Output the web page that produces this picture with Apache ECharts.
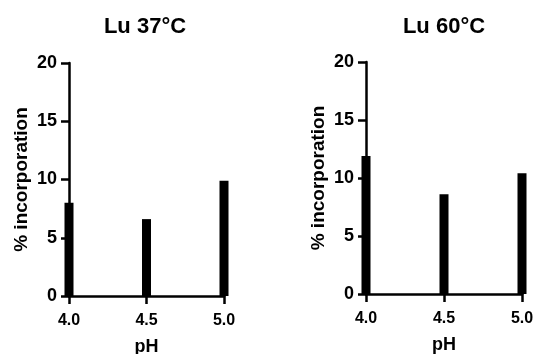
<!DOCTYPE html>
<html>
<head>
<meta charset="utf-8">
<script src="https://cdn.jsdelivr.net/npm/echarts@6/dist/echarts.min.js"></script>
<style>
  html, body { margin: 0; padding: 0; background: #fff; }
  #chart { width: 533px; height: 354px; }
</style>
</head>
<body>
<div id="chart"></div>
<script>
// pH levels tested and % incorporation measured at each temperature
const phLevels = [4.0, 4.5, 5.0];
const lu37 = [8.0, 6.6, 9.9];
const lu60 = [11.9, 8.6, 10.4];
const panelTitles = ['Lu 37°C', 'Lu 60°C'];
const yTicks = { min: 0, max: 20, interval: 5 };
const xTicks = { min: 4.0, max: 5.0, interval: 0.5 };

const FONT = '"Liberation Sans", Arial, Helvetica, sans-serif';
const INK = '#000';

// fixed plot rectangles; labels are allowed to sit outside them
const grids = [
  { left: 69, top: 63, width: 155, height: 233, containLabel: false, outerBoundsMode: 'none' },
  { left: 366, top: 62, width: 156, height: 232, containLabel: false, outerBoundsMode: 'none' }
];
const titleCenters = [145, 444];

function xAxis(i) {
  return {
    type: 'value', gridIndex: i,
    min: xTicks.min, max: xTicks.max, interval: xTicks.interval,
    name: 'pH', nameLocation: 'middle', nameGap: 42,
    nameTextStyle: { fontFamily: FONT, fontWeight: 'bold', fontSize: 18, color: INK },
    axisLine: { show: true, onZero: false, lineStyle: { color: INK, width: 2.5 } },
    axisTick: { show: true, length: 8, lineStyle: { color: INK, width: 2.5 } },
    axisLabel: {
      fontFamily: FONT, fontWeight: 'bold', fontSize: 16, color: INK, margin: 17,
      formatter: v => v.toFixed(1)
    },
    splitLine: { show: false }
  };
}

function yAxis(i) {
  return {
    type: 'value', gridIndex: i,
    min: yTicks.min, max: yTicks.max, interval: yTicks.interval,
    name: '% incorporation', nameLocation: 'middle', nameGap: 38, nameRotate: 90,
    nameTextStyle: { fontFamily: FONT, fontWeight: 'bold', fontSize: 19, color: INK },
    axisLine: { show: true, lineStyle: { color: INK, width: 2.5 } },
    axisTick: { show: true, length: 8, lineStyle: { color: INK, width: 2.5 } },
    axisLabel: { fontFamily: FONT, fontWeight: 'bold', fontSize: 18, color: INK, margin: 12 },
    splitLine: { show: false }
  };
}

function barSeries(i, values) {
  return {
    type: 'bar', xAxisIndex: i, yAxisIndex: i,
    data: phLevels.map((p, k) => [p, values[k]]),
    barWidth: 9, clip: false,
    itemStyle: { color: INK },
    z: 3
  };
}

const chart = echarts.init(document.getElementById('chart'), null, { renderer: 'canvas' });
chart.setOption({
  animation: false,
  backgroundColor: '#fff',
  title: panelTitles.map((t, i) => ({
    text: t, left: titleCenters[i], top: 16, padding: 0, textAlign: 'center',
    textStyle: { fontFamily: FONT, fontWeight: 'bold', fontSize: 22, color: INK }
  })),
  grid: grids,
  xAxis: [xAxis(0), xAxis(1)],
  yAxis: [yAxis(0), yAxis(1)],
  series: [barSeries(0, lu37), barSeries(1, lu60)]
});
</script>
</body>
</html>
